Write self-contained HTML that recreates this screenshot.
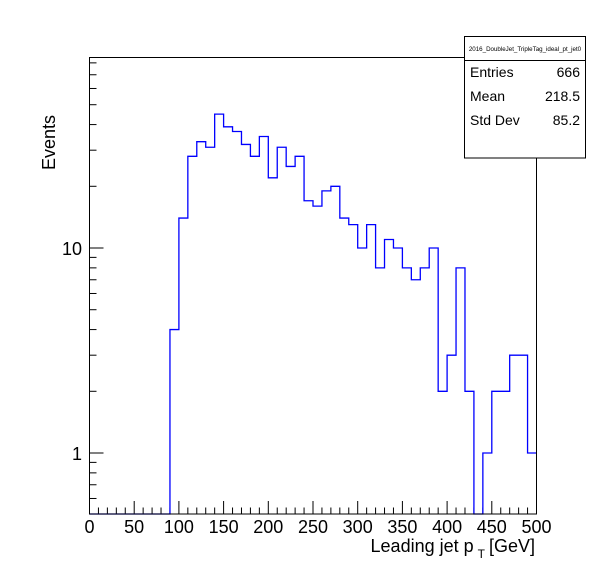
<!DOCTYPE html>
<html><head><meta charset="utf-8"><style>
body{margin:0;background:#fff}
svg{display:block;font-family:"Liberation Sans",sans-serif}
</style></head><body>
<svg id="c" width="596" height="572">
<rect x="0" y="0" width="596" height="572" fill="#fff"/>
<g id="ticks"></g>
<path id="hist" fill="none" stroke="#0000ff" stroke-width="1.3"/>
<rect x="89.5" y="57.5" width="447" height="456.5" fill="none" stroke="#000" stroke-width="1"/>
<g id="labels"></g>
<text x="535" y="552" font-size="18" text-anchor="end">Leading jet p<tspan font-size="12" dy="6" dx="4">T</tspan><tspan dy="-6" dx="4">[GeV]</tspan></text>
<text transform="translate(55,115) rotate(-90)" font-size="18" text-anchor="end">Events</text>
<g>
<rect x="464.5" y="36.5" width="121" height="121.5" fill="#fff" stroke="#000"/>
<line x1="464.5" y1="60.5" x2="585.5" y2="60.5" stroke="#000"/>
<text x="525" y="51" font-size="6.2" text-anchor="middle">2016_DoubleJet_TripleTag_ideal_pt_jet0</text>
<text x="470" y="77" font-size="14">Entries</text>
<text x="580" y="77" font-size="14" text-anchor="end">666</text>
<text x="470" y="101" font-size="14">Mean</text>
<text x="580" y="101" font-size="14" text-anchor="end">218.5</text>
<text x="470" y="125" font-size="14">Std Dev</text>
<text x="580" y="125" font-size="14" text-anchor="end">85.2</text>
</g>
</svg>
<script>
const binEdgesStart = [0,10,20,30,40,50,60,70,80,90,100,110,120,130,140,150,160,170,180,190,200,210,220,230,240,250,260,270,280,290,300,310,320,330,340,350,360,370,380,390,400,410,420,430,440,450,460,470,480,490];
const counts = [0,0,0,0,0,0,0,0,0,4,14,28,33,31,45,39,37,32,28,35,22,31,25,28,17,16,19,20,14,13,10,13,8,11,10,8,7,8,10,2,3,8,2,0,1,2,2,3,3,1];
const xTicks = [0,50,100,150,200,250,300,350,400,450,500];
const yTicks = [1,10];
const binWidth = 10;
const X0=89.5, X1=536.5, XMIN=0, XMAX=500;
const YB=514, Y10=248, DEC=205, YMIN=Math.pow(10,(Y10-YB)/DEC+1);
function xs(v){return X0+(v-XMIN)/(XMAX-XMIN)*(X1-X0);}
function ys(v){ if(v<=YMIN) return YB; return Y10-DEC*Math.log10(v/10);}
const NS="http://www.w3.org/2000/svg";
let d="";
for(let i=0;i<counts.length;i++){
  const xa=xs(binEdgesStart[i]), xb=xs(binEdgesStart[i]+binWidth), y=ys(counts[i]);
  if(i===0) d+="M"+xa+","+y; else d+="L"+xa+","+y;
  d+="L"+xb+","+y;
}
document.getElementById('hist').setAttribute('d',d);
const tg=document.getElementById('ticks'), lg=document.getElementById('labels');
function line(x1,y1,x2,y2,name){const l=document.createElementNS(NS,'line');
l.setAttribute('x1',x1);l.setAttribute('y1',y1);l.setAttribute('x2',x2);l.setAttribute('y2',y2);
l.setAttribute('stroke','#000');l.setAttribute('stroke-width','1');


tg.appendChild(l);}
for(let v=0;v<=500;v+=10){const x=xs(v);const major=(v%50===0);
 line(x,YB,x,YB-(major?13:6.5),major?'x-major-tick':'x-minor-tick');}
xTicks.forEach(v=>{const t=document.createElementNS(NS,'text');
 t.setAttribute('x',xs(v));t.setAttribute('y',533);t.setAttribute('font-size','18');t.setAttribute('text-anchor','middle');
 t.textContent=v;
 
 
 lg.appendChild(t);});
[0.6,0.7,0.8,0.9,2,3,4,5,6,7,8,9,20,30,40,50,60,70,80].forEach(v=>{const y=ys(v); if(y<57||y>YB)return;
 line(X0,y,X0+7,y,'y-minor-tick');});
yTicks.forEach(v=>{const y=ys(v);line(X0,y,X0+14,y,'y-major-tick');
 const t=document.createElementNS(NS,'text');t.setAttribute('x',82);t.setAttribute('y',y+7);
 t.setAttribute('font-size','18');t.setAttribute('text-anchor','end');t.textContent=v;
 
 
 lg.appendChild(t);});
</script>
</body></html>
